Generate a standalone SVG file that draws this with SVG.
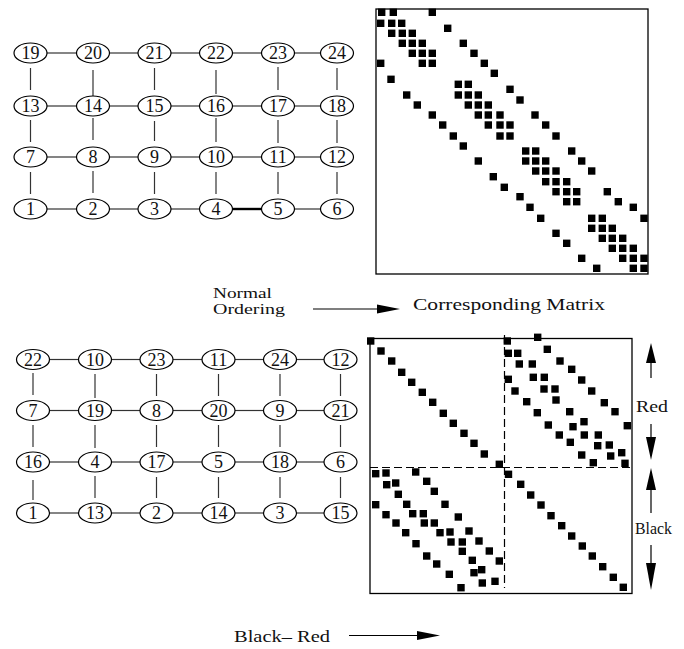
<svg xmlns="http://www.w3.org/2000/svg" xmlns:xlink="http://www.w3.org/1999/xlink" width="684" height="649" viewBox="0 0 684 649">
<style>
.n ellipse{fill:#fff;stroke:#000;stroke-width:1.2}
.n text{font-family:"Liberation Serif","Times New Roman",serif;font-size:18px;text-anchor:middle;fill:#111}
.e line{stroke:#333;stroke-width:1.2}
.e line.b{stroke:#000;stroke-width:2.4}
.box{fill:none;stroke:#000;stroke-width:1.3}
.dash{stroke:#000;stroke-width:1.2;stroke-dasharray:8 4;fill:none}
.lbl{font-family:"Liberation Serif","Times New Roman",serif;font-size:17px;fill:#111}
.sm{font-size:15.5px}
.ar{stroke:#000;stroke-width:1.2}
.hd{fill:#000}
</style>
<defs>
<rect id="s" x="-3.7" y="-3.7" width="7.4" height="7.4" fill="#000"/>
</defs>
<rect width="684" height="649" fill="#fff"/>

<!-- Top grid connectors -->
<g id="connectors-normal" class="e">
<line x1="47" y1="53" x2="76.5" y2="53"/><line x1="109.5" y1="53" x2="138" y2="53"/><line x1="171" y1="53" x2="199.5" y2="53"/><line x1="232.5" y1="53" x2="261.5" y2="53"/><line x1="294.5" y1="53" x2="320.5" y2="53"/>
<line x1="47" y1="106" x2="76.5" y2="106"/><line x1="109.5" y1="106" x2="138" y2="106"/><line x1="171" y1="106" x2="199.5" y2="106"/><line x1="232.5" y1="106" x2="261.5" y2="106"/><line x1="294.5" y1="106" x2="320.5" y2="106"/>
<line x1="47" y1="157" x2="76.5" y2="157"/><line x1="109.5" y1="157" x2="138" y2="157"/><line x1="171" y1="157" x2="199.5" y2="157"/><line x1="232.5" y1="157" x2="261.5" y2="157"/><line x1="294.5" y1="157" x2="320.5" y2="157"/>
<line x1="47" y1="209" x2="76.5" y2="209"/><line x1="109.5" y1="209" x2="138" y2="209"/><line x1="171" y1="209" x2="199.5" y2="209"/><line class="b" x1="232.5" y1="209" x2="261.5" y2="209"/><line x1="294.5" y1="209" x2="320.5" y2="209"/>
<line x1="30.5" y1="68" x2="30.5" y2="90"/><line x1="30.5" y1="120" x2="30.5" y2="142"/><line x1="30.5" y1="172" x2="30.5" y2="194"/>
<line x1="93" y1="70" x2="93" y2="97"/><line x1="93" y1="118" x2="93" y2="140"/><line x1="93" y1="171" x2="93" y2="193"/>
<line x1="154.5" y1="68" x2="154.5" y2="90"/><line x1="154.5" y1="121" x2="154.5" y2="141"/><line x1="154.5" y1="172" x2="154.5" y2="194"/>
<line x1="216" y1="70" x2="216" y2="94"/><line x1="216" y1="118" x2="216" y2="142"/><line x1="216" y1="172" x2="216" y2="194"/>
<line x1="278" y1="67" x2="278" y2="90"/><line x1="278" y1="120" x2="278" y2="143"/><line x1="278" y1="172" x2="278" y2="194"/>
<line x1="337" y1="68" x2="337" y2="90"/><line x1="337" y1="120" x2="337" y2="143"/><line x1="337" y1="172" x2="337" y2="194"/>
</g>

<!-- Bottom grid connectors -->
<g id="connectors-redblack" class="e">
<line x1="49.5" y1="359.5" x2="78.5" y2="359.5"/><line x1="111.5" y1="359.5" x2="140" y2="359.5"/><line x1="173" y1="359.5" x2="202" y2="359.5"/><line x1="235" y1="359.5" x2="263.5" y2="359.5"/><line x1="296.5" y1="359.5" x2="324" y2="359.5"/>
<line x1="49.5" y1="410.5" x2="78.5" y2="410.5"/><line x1="111.5" y1="410.5" x2="140" y2="410.5"/><line x1="173" y1="410.5" x2="202" y2="410.5"/><line x1="235" y1="410.5" x2="263.5" y2="410.5"/><line x1="296.5" y1="410.5" x2="324" y2="410.5"/>
<line x1="49.5" y1="462" x2="78.5" y2="462"/><line x1="111.5" y1="462" x2="140" y2="462"/><line x1="173" y1="462" x2="202" y2="462"/><line x1="235" y1="462" x2="263.5" y2="462"/><line x1="296.5" y1="462" x2="324" y2="462"/>
<line x1="49.5" y1="513" x2="78.5" y2="513"/><line x1="111.5" y1="513" x2="140" y2="513"/><line x1="173" y1="513" x2="202" y2="513"/><line x1="235" y1="513" x2="263.5" y2="513"/><line x1="296.5" y1="513" x2="324" y2="513"/>
<line x1="33" y1="373" x2="33" y2="395"/><line x1="33" y1="425" x2="33" y2="447"/><line x1="33" y1="480" x2="33" y2="500"/>
<line x1="95" y1="374" x2="95" y2="398"/><line x1="95" y1="425" x2="95" y2="448"/><line x1="95" y1="476" x2="95" y2="498"/>
<line x1="156.5" y1="374" x2="156.5" y2="396"/><line x1="156.5" y1="425" x2="156.5" y2="447"/><line x1="156.5" y1="477" x2="156.5" y2="498"/>
<line x1="218.5" y1="374" x2="218.5" y2="396"/><line x1="218.5" y1="425" x2="218.5" y2="447"/><line x1="218.5" y1="477" x2="218.5" y2="498"/>
<line x1="280" y1="374" x2="280" y2="396"/><line x1="280" y1="425" x2="280" y2="447"/><line x1="280" y1="477" x2="280" y2="498"/>
<line x1="340.5" y1="374" x2="340.5" y2="396"/><line x1="340.5" y1="425" x2="340.5" y2="447"/><line x1="340.5" y1="477" x2="340.5" y2="498"/>
</g>

<!-- Top grid nodes (normal ordering) -->
<g id="n19" class="n"><ellipse cx="30.5" cy="53" rx="16.5" ry="10"/><text x="30.5" y="59">19</text></g>
<g id="n20" class="n"><ellipse cx="93" cy="53" rx="16.5" ry="10"/><text x="93" y="59">20</text></g>
<g id="n21" class="n"><ellipse cx="154.5" cy="53" rx="16.5" ry="10"/><text x="154.5" y="59">21</text></g>
<g id="n22" class="n"><ellipse cx="216" cy="53" rx="16.5" ry="10"/><text x="216" y="59">22</text></g>
<g id="n23" class="n"><ellipse cx="278" cy="53" rx="16.5" ry="10"/><text x="278" y="59">23</text></g>
<g id="n24" class="n"><ellipse cx="337" cy="53" rx="16.5" ry="10"/><text x="337" y="59">24</text></g>
<g id="n13" class="n"><ellipse cx="30.5" cy="106" rx="16.5" ry="10"/><text x="30.5" y="112">13</text></g>
<g id="n14" class="n"><ellipse cx="93" cy="106" rx="16.5" ry="10"/><text x="93" y="112">14</text></g>
<g id="n15" class="n"><ellipse cx="154.5" cy="106" rx="16.5" ry="10"/><text x="154.5" y="112">15</text></g>
<g id="n16" class="n"><ellipse cx="216" cy="106" rx="16.5" ry="10"/><text x="216" y="112">16</text></g>
<g id="n17" class="n"><ellipse cx="278" cy="106" rx="16.5" ry="10"/><text x="278" y="112">17</text></g>
<g id="n18" class="n"><ellipse cx="337" cy="106" rx="16.5" ry="10"/><text x="337" y="112">18</text></g>
<g id="n7" class="n"><ellipse cx="30.5" cy="157" rx="16.5" ry="10"/><text x="30.5" y="163">7</text></g>
<g id="n8" class="n"><ellipse cx="93" cy="157" rx="16.5" ry="10"/><text x="93" y="163">8</text></g>
<g id="n9" class="n"><ellipse cx="154.5" cy="157" rx="16.5" ry="10"/><text x="154.5" y="163">9</text></g>
<g id="n10" class="n"><ellipse cx="216" cy="157" rx="16.5" ry="10"/><text x="216" y="163">10</text></g>
<g id="n11" class="n"><ellipse cx="278" cy="157" rx="16.5" ry="10"/><text x="278" y="163">11</text></g>
<g id="n12" class="n"><ellipse cx="337" cy="157" rx="16.5" ry="10"/><text x="337" y="163">12</text></g>
<g id="n1" class="n"><ellipse cx="30.5" cy="209" rx="16.5" ry="10"/><text x="30.5" y="215">1</text></g>
<g id="n2" class="n"><ellipse cx="93" cy="209" rx="16.5" ry="10"/><text x="93" y="215">2</text></g>
<g id="n3" class="n"><ellipse cx="154.5" cy="209" rx="16.5" ry="10"/><text x="154.5" y="215">3</text></g>
<g id="n4" class="n"><ellipse cx="216" cy="209" rx="16.5" ry="10"/><text x="216" y="215">4</text></g>
<g id="n5" class="n"><ellipse cx="278" cy="209" rx="16.5" ry="10"/><text x="278" y="215">5</text></g>
<g id="n6" class="n"><ellipse cx="337" cy="209" rx="16.5" ry="10"/><text x="337" y="215">6</text></g>

<!-- Bottom grid nodes (black-red ordering) -->
<g id="rb22" class="n"><ellipse cx="33" cy="359.5" rx="16.5" ry="10"/><text x="33" y="365.5">22</text></g>
<g id="rb10" class="n"><ellipse cx="95" cy="359.5" rx="16.5" ry="10"/><text x="95" y="365.5">10</text></g>
<g id="rb23" class="n"><ellipse cx="156.5" cy="359.5" rx="16.5" ry="10"/><text x="156.5" y="365.5">23</text></g>
<g id="rb11" class="n"><ellipse cx="218.5" cy="359.5" rx="16.5" ry="10"/><text x="218.5" y="365.5">11</text></g>
<g id="rb24" class="n"><ellipse cx="280" cy="359.5" rx="16.5" ry="10"/><text x="280" y="365.5">24</text></g>
<g id="rb12" class="n"><ellipse cx="340.5" cy="359.5" rx="16.5" ry="10"/><text x="340.5" y="365.5">12</text></g>
<g id="rb7" class="n"><ellipse cx="33" cy="410.5" rx="16.5" ry="10"/><text x="33" y="416.5">7</text></g>
<g id="rb19" class="n"><ellipse cx="95" cy="410.5" rx="16.5" ry="10"/><text x="95" y="416.5">19</text></g>
<g id="rb8" class="n"><ellipse cx="156.5" cy="410.5" rx="16.5" ry="10"/><text x="156.5" y="416.5">8</text></g>
<g id="rb20" class="n"><ellipse cx="218.5" cy="410.5" rx="16.5" ry="10"/><text x="218.5" y="416.5">20</text></g>
<g id="rb9" class="n"><ellipse cx="280" cy="410.5" rx="16.5" ry="10"/><text x="280" y="416.5">9</text></g>
<g id="rb21" class="n"><ellipse cx="340.5" cy="410.5" rx="16.5" ry="10"/><text x="340.5" y="416.5">21</text></g>
<g id="rb16" class="n"><ellipse cx="33" cy="462" rx="16.5" ry="10"/><text x="33" y="468">16</text></g>
<g id="rb4" class="n"><ellipse cx="95" cy="462" rx="16.5" ry="10"/><text x="95" y="468">4</text></g>
<g id="rb17" class="n"><ellipse cx="156.5" cy="462" rx="16.5" ry="10"/><text x="156.5" y="468">17</text></g>
<g id="rb5" class="n"><ellipse cx="218.5" cy="462" rx="16.5" ry="10"/><text x="218.5" y="468">5</text></g>
<g id="rb18" class="n"><ellipse cx="280" cy="462" rx="16.5" ry="10"/><text x="280" y="468">18</text></g>
<g id="rb6" class="n"><ellipse cx="340.5" cy="462" rx="16.5" ry="10"/><text x="340.5" y="468">6</text></g>
<g id="rb1" class="n"><ellipse cx="33" cy="513" rx="16.5" ry="10"/><text x="33" y="519">1</text></g>
<g id="rb13" class="n"><ellipse cx="95" cy="513" rx="16.5" ry="10"/><text x="95" y="519">13</text></g>
<g id="rb2" class="n"><ellipse cx="156.5" cy="513" rx="16.5" ry="10"/><text x="156.5" y="519">2</text></g>
<g id="rb14" class="n"><ellipse cx="218.5" cy="513" rx="16.5" ry="10"/><text x="218.5" y="519">14</text></g>
<g id="rb3" class="n"><ellipse cx="280" cy="513" rx="16.5" ry="10"/><text x="280" y="519">3</text></g>
<g id="rb15" class="n"><ellipse cx="340.5" cy="513" rx="16.5" ry="10"/><text x="340.5" y="519">15</text></g>

<!-- Normal ordering matrix -->
<g id="matrix-normal">
<rect class="box" x="376" y="9" width="272" height="265"/>
<use href="#s" x="381.7" y="12.3"/><use href="#s" x="393.3" y="12.3"/><use href="#s" x="432.3" y="12.3"/>
<use href="#s" x="380.7" y="23.3"/><use href="#s" x="391.7" y="23.3"/><use href="#s" x="401.7" y="23.3"/>
<use href="#s" x="447.7" y="28.3"/>
<use href="#s" x="391.7" y="33.3"/><use href="#s" x="402.3" y="33.3"/><use href="#s" x="412.3" y="33.3"/>
<use href="#s" x="402.3" y="43.3"/><use href="#s" x="412.3" y="43.3"/><use href="#s" x="422.3" y="43.3"/><use href="#s" x="463.3" y="43.3"/>
<use href="#s" x="412.3" y="53.3"/><use href="#s" x="422.3" y="53.3"/><use href="#s" x="432.3" y="53.3"/><use href="#s" x="474" y="53.3"/>
<use href="#s" x="380.7" y="63.3"/><use href="#s" x="422.3" y="63.3"/><use href="#s" x="432.3" y="63.3"/><use href="#s" x="484.3" y="63.3"/>
<use href="#s" x="494.3" y="73.3"/>
<use href="#s" x="391" y="79.3"/>
<use href="#s" x="458.3" y="84.3"/><use href="#s" x="468.3" y="84.3"/>
<use href="#s" x="510" y="89.3"/>
<use href="#s" x="406.7" y="95"/><use href="#s" x="458.3" y="95"/><use href="#s" x="468.3" y="95"/><use href="#s" x="478.3" y="95"/>
<use href="#s" x="520" y="100"/>
<use href="#s" x="417.3" y="105"/><use href="#s" x="468.3" y="105"/><use href="#s" x="478.3" y="105"/><use href="#s" x="488.3" y="105"/>
<use href="#s" x="432.3" y="115"/><use href="#s" x="478.3" y="115"/><use href="#s" x="488.3" y="115"/><use href="#s" x="500" y="115"/><use href="#s" x="535" y="115"/>
<use href="#s" x="442.7" y="125"/><use href="#s" x="488.3" y="125"/><use href="#s" x="500" y="125"/><use href="#s" x="510" y="125"/><use href="#s" x="545.7" y="125"/>
<use href="#s" x="453.3" y="136"/><use href="#s" x="500" y="136"/><use href="#s" x="510" y="136"/><use href="#s" x="556" y="136"/>
<use href="#s" x="463.3" y="146"/>
<use href="#s" x="525.7" y="151"/><use href="#s" x="535.7" y="151"/><use href="#s" x="571.7" y="151"/>
<use href="#s" x="478.3" y="161"/><use href="#s" x="525.7" y="161"/><use href="#s" x="535.7" y="161"/><use href="#s" x="545.7" y="161"/><use href="#s" x="581.7" y="161"/>
<use href="#s" x="535.7" y="171"/><use href="#s" x="545.7" y="171"/><use href="#s" x="556" y="171"/><use href="#s" x="591.7" y="171"/>
<use href="#s" x="493.3" y="176.7"/>
<use href="#s" x="545.7" y="181.7"/><use href="#s" x="556" y="181.7"/><use href="#s" x="566.7" y="181.7"/>
<use href="#s" x="504.3" y="187.3"/>
<use href="#s" x="556" y="191.7"/><use href="#s" x="566.7" y="191.7"/><use href="#s" x="576.7" y="191.7"/><use href="#s" x="607.3" y="191.7"/>
<use href="#s" x="520" y="196.7"/>
<use href="#s" x="566.7" y="201.7"/><use href="#s" x="576.7" y="201.7"/><use href="#s" x="618.3" y="201.7"/>
<use href="#s" x="530" y="207.3"/><use href="#s" x="633.3" y="207.3"/>
<use href="#s" x="540.7" y="218.3"/><use href="#s" x="591.7" y="218.3"/><use href="#s" x="602.3" y="218.3"/><use href="#s" x="644" y="218.3"/>
<use href="#s" x="591.7" y="228.3"/><use href="#s" x="602.3" y="228.3"/><use href="#s" x="612.3" y="228.3"/>
<use href="#s" x="556" y="233.3"/>
<use href="#s" x="602.3" y="238.3"/><use href="#s" x="612.3" y="238.3"/><use href="#s" x="622.7" y="238.3"/>
<use href="#s" x="566.7" y="243.3"/>
<use href="#s" x="612.3" y="248.3"/><use href="#s" x="622.7" y="248.3"/><use href="#s" x="633.3" y="248.3"/>
<use href="#s" x="581.7" y="258.3"/><use href="#s" x="622.7" y="258.3"/><use href="#s" x="633.3" y="258.3"/><use href="#s" x="644" y="258.3"/>
<use href="#s" x="596.7" y="268.3"/><use href="#s" x="633.3" y="268.3"/><use href="#s" x="644" y="268.3"/>
</g>

<!-- Black-red ordering matrix -->
<g id="matrix-redblack">
<rect class="box" x="370" y="338.5" width="262" height="255"/>
<line class="dash" x1="504.5" y1="335" x2="504.5" y2="588"/>
<line class="dash" x1="370" y1="467.5" x2="632" y2="467.5"/>
<use href="#s" x="370.7" y="341"/><use href="#s" x="381" y="351"/><use href="#s" x="391.7" y="361"/><use href="#s" x="401.7" y="372.3"/><use href="#s" x="411.7" y="382.3"/><use href="#s" x="422.3" y="392.3"/><use href="#s" x="432.7" y="402.3"/><use href="#s" x="443.3" y="413.3"/><use href="#s" x="453.3" y="423.3"/><use href="#s" x="464" y="433.3"/><use href="#s" x="474" y="443.3"/><use href="#s" x="484.3" y="454"/><use href="#s" x="499.3" y="464.3"/>
<use href="#s" x="508.5" y="474.3"/><use href="#s" x="520.7" y="484.3"/><use href="#s" x="530.7" y="495"/><use href="#s" x="541" y="505"/><use href="#s" x="551" y="515.7"/><use href="#s" x="561.7" y="525.7"/><use href="#s" x="571.7" y="536"/><use href="#s" x="582.3" y="546"/><use href="#s" x="592.3" y="556"/><use href="#s" x="602.7" y="566.7"/><use href="#s" x="613.3" y="577.3"/><use href="#s" x="623.3" y="587.3"/>
<use href="#s" x="507.3" y="341"/><use href="#s" x="537.7" y="337.3"/>
<use href="#s" x="508.3" y="353.3"/><use href="#s" x="517.7" y="353.3"/><use href="#s" x="547.3" y="349.3"/>
<use href="#s" x="519.3" y="364"/><use href="#s" x="532.3" y="364"/><use href="#s" x="560" y="361"/>
<use href="#s" x="571.7" y="369.3"/>
<use href="#s" x="508.3" y="379.3"/><use href="#s" x="533.3" y="377.3"/><use href="#s" x="544.3" y="377.3"/><use href="#s" x="581.7" y="380"/>
<use href="#s" x="515" y="391"/><use href="#s" x="544" y="389"/><use href="#s" x="555" y="389"/><use href="#s" x="591.7" y="391"/>
<use href="#s" x="526.7" y="401.7"/><use href="#s" x="556" y="400"/><use href="#s" x="604.3" y="402.7"/>
<use href="#s" x="537.3" y="412.7"/><use href="#s" x="569.7" y="411.7"/><use href="#s" x="615" y="411.7"/>
<use href="#s" x="548.3" y="425"/><use href="#s" x="584" y="421.7"/><use href="#s" x="573" y="426.7"/><use href="#s" x="627.3" y="425.7"/>
<use href="#s" x="559.3" y="435"/><use href="#s" x="584.3" y="435"/><use href="#s" x="598.3" y="435"/>
<use href="#s" x="570.3" y="442.3"/><use href="#s" x="597.7" y="445.7"/><use href="#s" x="609.3" y="445"/>
<use href="#s" x="581.7" y="455"/><use href="#s" x="610.7" y="456"/><use href="#s" x="621.7" y="452.7"/>
<use href="#s" x="593.3" y="462.7"/><use href="#s" x="625" y="463.3"/>
<use href="#s" x="375.7" y="473.7"/><use href="#s" x="386" y="473"/><use href="#s" x="415.7" y="472"/>
<use href="#s" x="386.7" y="484.7"/><use href="#s" x="395.7" y="483"/><use href="#s" x="426.7" y="481.3"/>
<use href="#s" x="398.3" y="494.3"/><use href="#s" x="434.3" y="491.3"/>
<use href="#s" x="375.7" y="504.7"/><use href="#s" x="406.7" y="504.3"/><use href="#s" x="445" y="504.3"/>
<use href="#s" x="386" y="514.7"/><use href="#s" x="412.7" y="513.7"/><use href="#s" x="423.3" y="513.7"/><use href="#s" x="458.3" y="517"/>
<use href="#s" x="396" y="523"/><use href="#s" x="424.3" y="523"/><use href="#s" x="434.3" y="523"/>
<use href="#s" x="405.7" y="532.7"/><use href="#s" x="440" y="532.7"/><use href="#s" x="450" y="532"/><use href="#s" x="469" y="531"/>
<use href="#s" x="416" y="543.7"/><use href="#s" x="451" y="542"/><use href="#s" x="462.3" y="542"/><use href="#s" x="479" y="541"/>
<use href="#s" x="462.3" y="551.3"/><use href="#s" x="489.3" y="551"/>
<use href="#s" x="426.7" y="556"/><use href="#s" x="472.3" y="560.3"/><use href="#s" x="499.3" y="561"/>
<use href="#s" x="436.7" y="564"/><use href="#s" x="474" y="572.7"/><use href="#s" x="481.7" y="569.7"/>
<use href="#s" x="449.3" y="574.3"/><use href="#s" x="482.3" y="583"/><use href="#s" x="495" y="581.3"/>
<use href="#s" x="461" y="587.7"/>
</g>

<!-- Labels and arrows -->
<g id="label-normal">
<text class="lbl sm" x="213" y="297.5" textLength="59" lengthAdjust="spacingAndGlyphs">Normal</text>
<text class="lbl sm" x="213" y="313.5" textLength="72" lengthAdjust="spacingAndGlyphs">Ordering</text>
<line class="ar" x1="313" y1="309" x2="380" y2="309"/>
<polygon class="hd" points="377,304.5 400,309 377,313.5"/>
<text class="lbl" x="413" y="310" textLength="192" lengthAdjust="spacingAndGlyphs">Corresponding Matrix</text>
</g>
<g id="label-redblack">
<text class="lbl" x="234" y="641.5" textLength="96" lengthAdjust="spacingAndGlyphs">Black– Red</text>
<line class="ar" x1="349" y1="635.5" x2="420" y2="635.5"/>
<polygon class="hd" points="417,631 440,635.5 417,640"/>
</g>
<g id="label-red">
<line class="ar" x1="651" y1="360" x2="651" y2="378"/>
<polygon class="hd" points="651,343 656,363 646,363"/>
<text class="lbl" x="636" y="411.5" textLength="32" lengthAdjust="spacingAndGlyphs">Red</text>
<line class="ar" x1="651" y1="424" x2="651" y2="440"/>
<polygon class="hd" points="646,437 656,437 651,460"/>
</g>
<g id="label-black">
<line class="ar" x1="651" y1="487" x2="651" y2="513"/>
<polygon class="hd" points="651,468 656,490 646,490"/>
<text class="lbl" x="635" y="534" textLength="37" lengthAdjust="spacingAndGlyphs">Black</text>
<line class="ar" x1="651" y1="545" x2="651" y2="566"/>
<polygon class="hd" points="646,563 656,563 651,590"/>
</g>
</svg>
